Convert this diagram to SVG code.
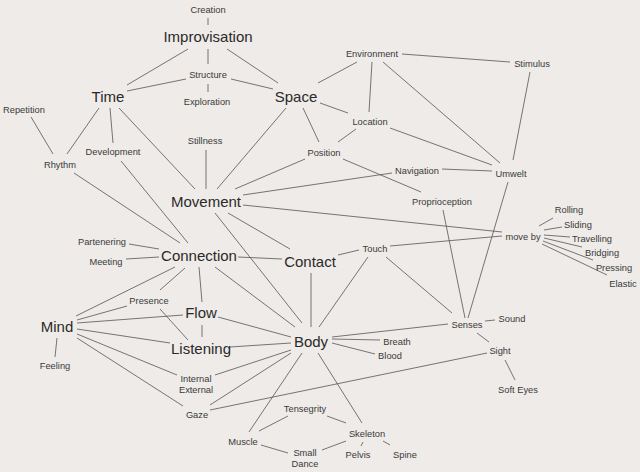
<svg xmlns="http://www.w3.org/2000/svg" width="640" height="472" viewBox="0 0 640 472">
<style>
.bg{fill:#eeebe8}
.s{font-family:"Liberation Sans",Arial,sans-serif;font-size:9.3px;fill:#3a3a3a;text-anchor:middle}
.b{font-family:"Liberation Sans",Arial,sans-serif;font-size:15px;fill:#2a2a2a;text-anchor:middle}
#edges line{stroke:#555;stroke-width:0.8;fill:none}
</style>
<rect class="bg" x="0" y="0" width="640" height="472"/>
<g id="edges">
<line x1="208" y1="18" x2="208" y2="25"/>
<line x1="208" y1="49" x2="208" y2="64"/>
<line x1="208" y1="84" x2="208" y2="92"/>
<line x1="127" y1="85" x2="188" y2="49"/>
<line x1="127" y1="91" x2="186" y2="79"/>
<line x1="227" y1="49" x2="278" y2="83"/>
<line x1="231" y1="79" x2="273" y2="89"/>
<line x1="318" y1="83" x2="357" y2="62"/>
<line x1="402" y1="54" x2="510" y2="62"/>
<line x1="530" y1="72" x2="513" y2="160"/>
<line x1="372" y1="62" x2="369" y2="112"/>
<line x1="383" y1="62" x2="500" y2="163"/>
<line x1="320" y1="103" x2="348" y2="113"/>
<line x1="390" y1="128" x2="492" y2="165"/>
<line x1="303" y1="108" x2="319" y2="142"/>
<line x1="356" y1="129" x2="338" y2="142"/>
<line x1="286" y1="108" x2="217" y2="189"/>
<line x1="206" y1="150" x2="206" y2="189"/>
<line x1="110" y1="108" x2="113" y2="143"/>
<line x1="99" y1="108" x2="67" y2="154"/>
<line x1="31" y1="117" x2="53" y2="154"/>
<line x1="119" y1="108" x2="195" y2="189"/>
<line x1="121" y1="161" x2="188" y2="243"/>
<line x1="74" y1="173" x2="180" y2="243"/>
<line x1="235" y1="189" x2="305" y2="159"/>
<line x1="243" y1="195" x2="392" y2="173"/>
<line x1="243" y1="205" x2="502" y2="232"/>
<line x1="343" y1="159" x2="421" y2="192"/>
<line x1="442" y1="169" x2="492" y2="171"/>
<line x1="443" y1="210" x2="465" y2="318"/>
<line x1="508" y1="182" x2="468" y2="318"/>
<line x1="390" y1="246" x2="502" y2="236"/>
<line x1="539" y1="226" x2="553" y2="218"/>
<line x1="544" y1="230" x2="562" y2="227"/>
<line x1="544" y1="235" x2="570" y2="237"/>
<line x1="544" y1="238" x2="582" y2="247"/>
<line x1="543" y1="241" x2="593" y2="260"/>
<line x1="542" y1="244" x2="607" y2="275"/>
<line x1="129" y1="244" x2="159" y2="249"/>
<line x1="126" y1="259" x2="159" y2="257"/>
<line x1="238" y1="257" x2="282" y2="259"/>
<line x1="228" y1="213" x2="290" y2="249"/>
<line x1="215" y1="213" x2="302" y2="323"/>
<line x1="311" y1="273" x2="311" y2="327"/>
<line x1="338" y1="255" x2="359" y2="250"/>
<line x1="368" y1="257" x2="319" y2="327"/>
<line x1="386" y1="257" x2="452" y2="313"/>
<line x1="215" y1="267" x2="295" y2="327"/>
<line x1="218" y1="317" x2="291" y2="337"/>
<line x1="230" y1="347" x2="291" y2="343"/>
<line x1="332" y1="337" x2="448" y2="324"/>
<line x1="332" y1="339" x2="380" y2="340"/>
<line x1="332" y1="343" x2="375" y2="354"/>
<line x1="485" y1="321" x2="495" y2="320"/>
<line x1="477" y1="333" x2="489" y2="342"/>
<line x1="505" y1="360" x2="515" y2="380"/>
<line x1="210" y1="410" x2="487" y2="353"/>
<line x1="57" y1="338" x2="55" y2="357"/>
<line x1="77" y1="334" x2="177" y2="375"/>
<line x1="77" y1="338" x2="183" y2="406"/>
<line x1="77" y1="329" x2="170" y2="343"/>
<line x1="77" y1="323" x2="183" y2="315"/>
<line x1="77" y1="320" x2="127" y2="306"/>
<line x1="76" y1="316" x2="175" y2="267"/>
<line x1="160" y1="290" x2="185" y2="268"/>
<line x1="160" y1="309" x2="188" y2="340"/>
<line x1="199" y1="267" x2="202" y2="302"/>
<line x1="202" y1="325" x2="202" y2="337"/>
<line x1="215" y1="375" x2="291" y2="350"/>
<line x1="210" y1="405" x2="291" y2="353"/>
<line x1="302" y1="353" x2="249" y2="432"/>
<line x1="318" y1="353" x2="362" y2="423"/>
<line x1="288" y1="416" x2="259" y2="431"/>
<line x1="327" y1="416" x2="346" y2="423"/>
<line x1="261" y1="445" x2="288" y2="453"/>
<line x1="346" y1="441" x2="322" y2="450"/>
<line x1="363" y1="442" x2="361" y2="446"/>
<line x1="383" y1="441" x2="390" y2="445"/>
</g>
<g id="n-improvisation"><text class="b" x="208" y="42">Improvisation</text></g>
<g id="n-time"><text class="b" x="108" y="102">Time</text></g>
<g id="n-space"><text class="b" x="296" y="102">Space</text></g>
<g id="n-movement"><text class="b" x="206" y="207">Movement</text></g>
<g id="n-connection"><text class="b" x="199" y="261">Connection</text></g>
<g id="n-contact"><text class="b" x="310" y="267">Contact</text></g>
<g id="n-flow"><text class="b" x="201" y="318">Flow</text></g>
<g id="n-mind"><text class="b" x="57" y="332">Mind</text></g>
<g id="n-listening"><text class="b" x="201" y="354">Listening</text></g>
<g id="n-body"><text class="b" x="311" y="347">Body</text></g>
<g id="n-creation"><text class="s" x="208" y="13">Creation</text></g>
<g id="n-structure"><text class="s" x="208" y="78">Structure</text></g>
<g id="n-exploration"><text class="s" x="207" y="105">Exploration</text></g>
<g id="n-environment"><text class="s" x="372" y="57">Environment</text></g>
<g id="n-stimulus"><text class="s" x="532" y="67">Stimulus</text></g>
<g id="n-location"><text class="s" x="370" y="125">Location</text></g>
<g id="n-repetition"><text class="s" x="24" y="113">Repetition</text></g>
<g id="n-stillness"><text class="s" x="205" y="144">Stillness</text></g>
<g id="n-development"><text class="s" x="113" y="155">Development</text></g>
<g id="n-position"><text class="s" x="324" y="156">Position</text></g>
<g id="n-rhythm"><text class="s" x="60" y="168">Rhythm</text></g>
<g id="n-navigation"><text class="s" x="417" y="174">Navigation</text></g>
<g id="n-umwelt"><text class="s" x="511" y="177">Umwelt</text></g>
<g id="n-proprioception"><text class="s" x="442" y="205">Proprioception</text></g>
<g id="n-rolling"><text class="s" x="569" y="213">Rolling</text></g>
<g id="n-sliding"><text class="s" x="578" y="228">Sliding</text></g>
<g id="n-travelling"><text class="s" x="592" y="242">Travelling</text></g>
<g id="n-bridging"><text class="s" x="602" y="256">Bridging</text></g>
<g id="n-pressing"><text class="s" x="614" y="271">Pressing</text></g>
<g id="n-elastic"><text class="s" x="623" y="287">Elastic</text></g>
<g id="n-moveby"><text class="s" x="523" y="240">move by</text></g>
<g id="n-partenering"><text class="s" x="102" y="245">Partenering</text></g>
<g id="n-meeting"><text class="s" x="106" y="265">Meeting</text></g>
<g id="n-touch"><text class="s" x="375" y="252">Touch</text></g>
<g id="n-presence"><text class="s" x="149" y="304">Presence</text></g>
<g id="n-sound"><text class="s" x="512" y="322">Sound</text></g>
<g id="n-senses"><text class="s" x="467" y="328">Senses</text></g>
<g id="n-breath"><text class="s" x="397" y="345">Breath</text></g>
<g id="n-sight"><text class="s" x="500" y="354">Sight</text></g>
<g id="n-blood"><text class="s" x="390" y="359">Blood</text></g>
<g id="n-feeling"><text class="s" x="55" y="369">Feeling</text></g>
<g id="n-internalexternal"><text class="s" x="196" y="382">Internal</text><text class="s" x="196" y="393">External</text></g>
<g id="n-softeyes"><text class="s" x="518" y="393">Soft Eyes</text></g>
<g id="n-tensegrity"><text class="s" x="305" y="412">Tensegrity</text></g>
<g id="n-gaze"><text class="s" x="197" y="418">Gaze</text></g>
<g id="n-skeleton"><text class="s" x="367" y="437">Skeleton</text></g>
<g id="n-muscle"><text class="s" x="243" y="445">Muscle</text></g>
<g id="n-smalldance"><text class="s" x="305" y="456">Small</text><text class="s" x="305" y="467">Dance</text></g>
<g id="n-pelvis"><text class="s" x="358" y="458">Pelvis</text></g>
<g id="n-spine"><text class="s" x="405" y="458">Spine</text></g>
</svg>
